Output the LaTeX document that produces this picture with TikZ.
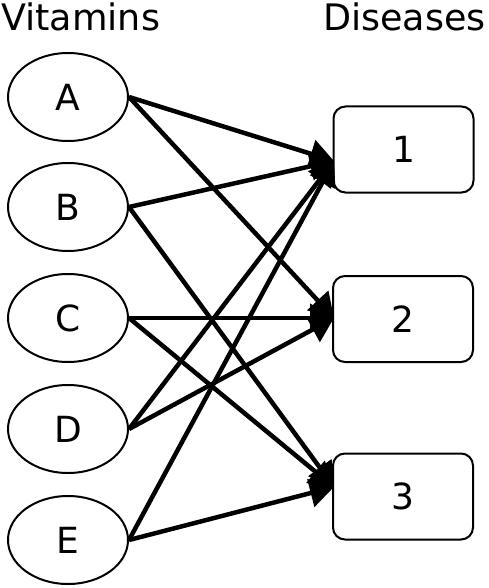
\documentclass[tikz,border=0pt]{standalone}
\usepackage{fontspec}
\setmainfont{DejaVu Sans}
\usetikzlibrary{arrows.meta,shapes.geometric}
\begin{document}
\begin{tikzpicture}[x=1pt,y=-1pt,
  vit/.style={draw,line width=2pt,ellipse,minimum width=120pt,minimum height=88pt,inner sep=0pt,font=\fontsize{36}{40}\selectfont},
  dis/.style={draw,line width=2pt,rounded corners=12pt,minimum width=140pt,minimum height=86pt,inner sep=0pt,font=\fontsize{36}{40}\selectfont},
  head/.style={font=\fontsize{36.5}{40}\selectfont,inner sep=0pt,anchor=base west},
  link/.style={line width=4.5pt,-{Triangle[length=24pt,width=28pt]}}]
\useasboundingbox (0,0) rectangle (488,588);
\node[head] (hv) at (1,31) {Vitamins};
\node[head] (hd) at (323,31) {Diseases};
\node[vit] (A) at (68,97) {A};
\node[vit] (B) at (68,207) {B};
\node[vit] (C) at (68,318) {C};
\node[vit] (D) at (68,429) {D};
\node[vit] (E) at (68,540) {E};
\node[dis] (d1) at (403.5,149.5) {1};
\node[dis] (d2) at (403,319) {2};
\node[dis] (d3) at (403,496.5) {3};
\coordinate (t1) at (334,161);
\coordinate (t2) at (334,318);
\coordinate (t3) at (334,487);
\draw[link] (A.east) -- (t1);
\draw[link] (A.east) -- (t2);
\draw[link] (B.east) -- (t1);
\draw[link] (B.east) -- (t3);
\draw[link] (C.east) -- (t2);
\draw[link] (C.east) -- (t3);
\draw[link] (D.east) -- (t1);
\draw[link] (D.east) -- (t2);
\draw[link] (E.east) -- (t1);
\draw[link] (E.east) -- (t3);
\end{tikzpicture}
\end{document}
